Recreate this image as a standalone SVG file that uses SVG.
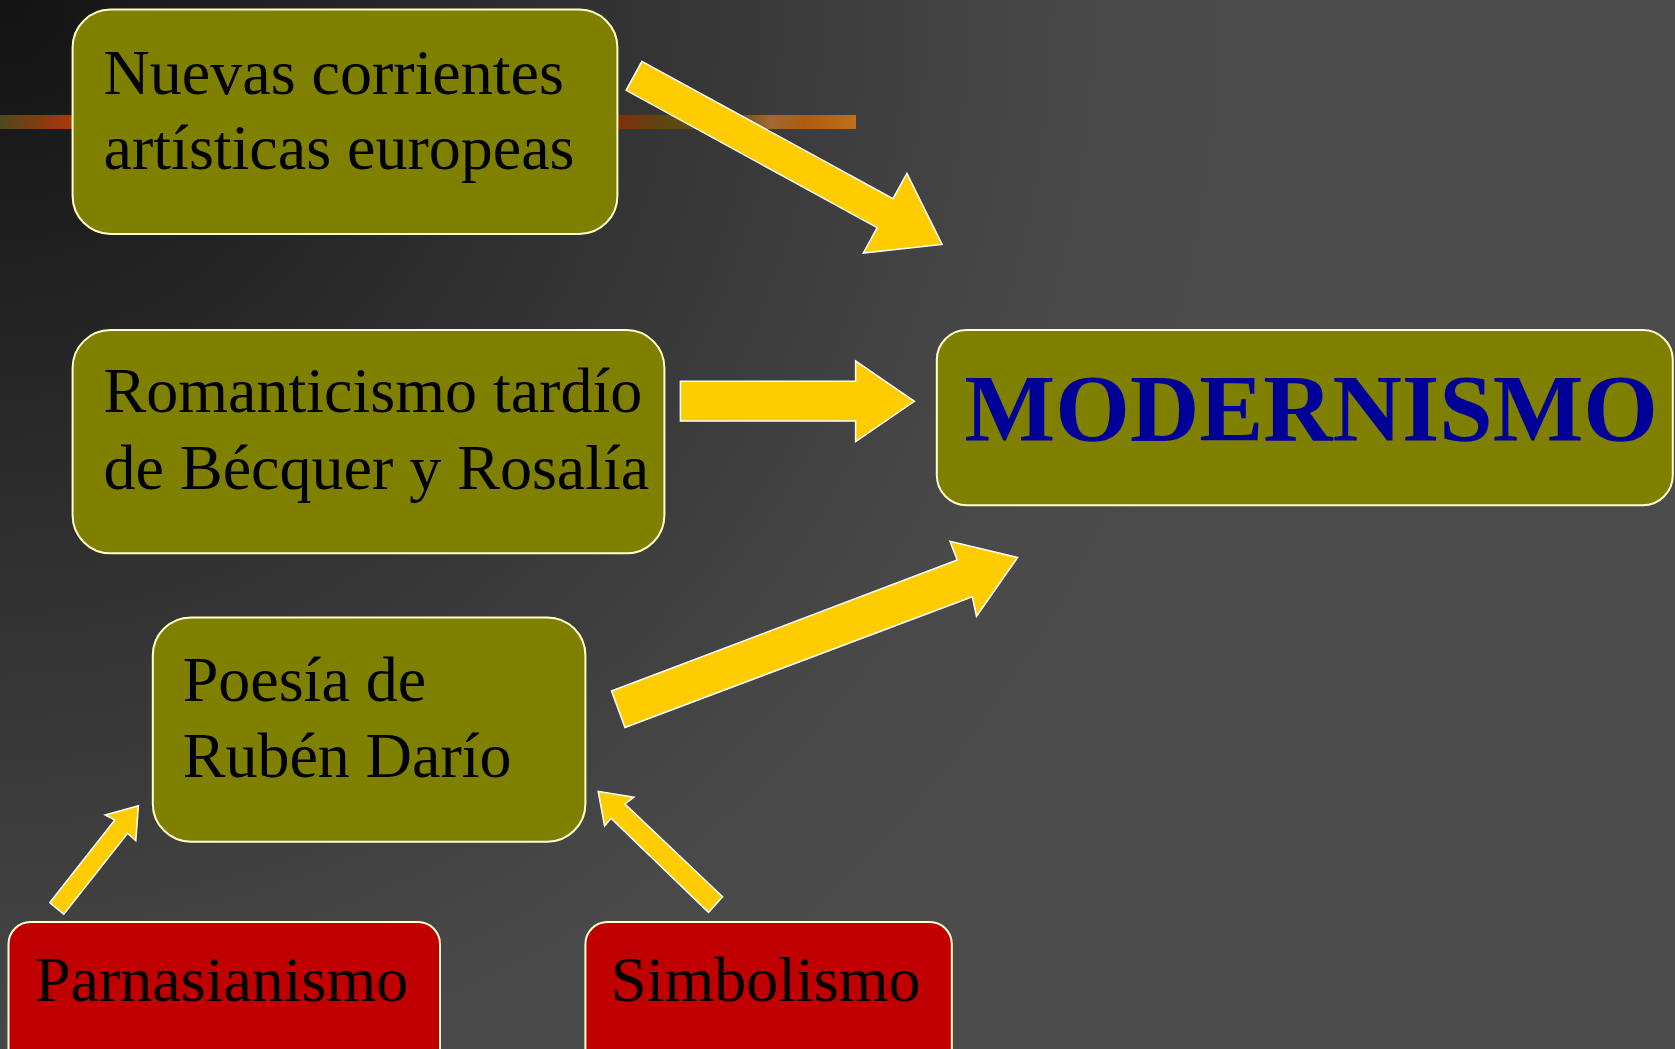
<svg xmlns="http://www.w3.org/2000/svg" width="1675" height="1049" viewBox="0 0 1675 1049">
<defs>
<radialGradient id="bg" gradientUnits="userSpaceOnUse" cx="0" cy="0" r="1250">
<stop offset="0" stop-color="#131313"/>
<stop offset="0.45" stop-color="#303030"/>
<stop offset="0.85" stop-color="#484848"/>
<stop offset="1" stop-color="#4b4b4b"/>
</radialGradient>
<linearGradient id="band" x1="0" y1="0" x2="856" y2="0" gradientUnits="userSpaceOnUse">
<stop offset="0" stop-color="#4a4a20"/>
<stop offset="0.05" stop-color="#8a3a10"/>
<stop offset="0.1" stop-color="#b83a08"/>
<stop offset="0.2" stop-color="#8a2a10"/>
<stop offset="0.35" stop-color="#a03810"/>
<stop offset="0.5" stop-color="#7a3010"/>
<stop offset="0.7" stop-color="#902408"/>
<stop offset="0.78" stop-color="#5a4a10"/>
<stop offset="0.86" stop-color="#6a4a18"/>
<stop offset="0.9" stop-color="#a06a30"/>
<stop offset="0.94" stop-color="#b05a10"/>
<stop offset="1" stop-color="#c07018"/>
</linearGradient>
</defs>
<style>
.olive{fill:#808000;stroke:#FFFFCC;stroke-width:2}
.red{fill:#C00000;stroke:#FFFFCC;stroke-width:2}
.t{font-family:"Liberation Serif","Times New Roman",serif;font-size:64px;fill:#000000}
.big{font-family:"Liberation Serif","Times New Roman",serif;font-size:96px;font-weight:bold;fill:#000099}
.arrow{fill:#FFCC00;stroke:#FFFFFF;stroke-width:1.5;stroke-linejoin:miter}
</style>
<rect x="0" y="0" width="1675" height="1049" fill="url(#bg)"/>
<rect x="0" y="115" width="856" height="14" fill="url(#band)"/>
<g id="connectors">
<polygon class="arrow" points="641.9,61.3 893,198.7 906.9,173.4 942.1,244.4 863.3,253 877.2,227.7 626.1,90.3"/>
<polygon class="arrow" points="680.4,381.3 855.6,381.3 855.6,361 914.4,401.3 855.6,441.6 855.6,420.9 680.4,420.9"/>
<polygon class="arrow" points="611.5,691 957.2,560 950,541.3 1017.6,557.5 976.5,616.3 972.3,596.7 625,727.5"/>
<polygon class="arrow" points="49.7,902.7 114.8,820 105.2,815 138.4,805.7 135.8,840.7 127.6,833.3 63.8,914.3"/>
<polygon class="arrow" points="722.6,896.7 625,804 633.9,797.3 598.2,791.3 604.6,826 611,818.3 708.5,912.3"/>
</g>
<g id="node-nuevas">
<rect class="olive" x="72.6" y="9.6" width="544.8" height="224.3" rx="38" ry="38"/>
<text class="t" x="103.6" y="94">Nuevas corrientes</text>
<text class="t" x="103.6" y="169">artísticas europeas</text>
</g>
<g id="node-romanticismo">
<rect class="olive" x="72.6" y="330" width="591.8" height="223.3" rx="38" ry="38"/>
<text class="t" x="103.6" y="412">Romanticismo tardío</text>
<text class="t" x="103.6" y="489">de Bécquer y Rosalía</text>
</g>
<g id="node-dario">
<rect class="olive" x="152.8" y="617.4" width="432.6" height="224.3" rx="38" ry="38"/>
<text class="t" x="182.7" y="701">Poesía de</text>
<text class="t" x="182.7" y="777">Rubén Darío</text>
</g>
<g id="node-modernismo">
<rect class="olive" x="936.8" y="330" width="736" height="175.3" rx="30" ry="30"/>
<text class="big" x="964.6" y="441">MODERNISMO</text>
</g>
<g id="node-parnasianismo">
<rect class="red" x="8.5" y="922" width="431.5" height="150" rx="22" ry="22"/>
<text class="t" x="35" y="1001">Parnasianismo</text>
</g>
<g id="node-simbolismo">
<rect class="red" x="585.4" y="922" width="366.4" height="150" rx="22" ry="22"/>
<text class="t" x="611" y="1001">Simbolismo</text>
</g>
</svg>
